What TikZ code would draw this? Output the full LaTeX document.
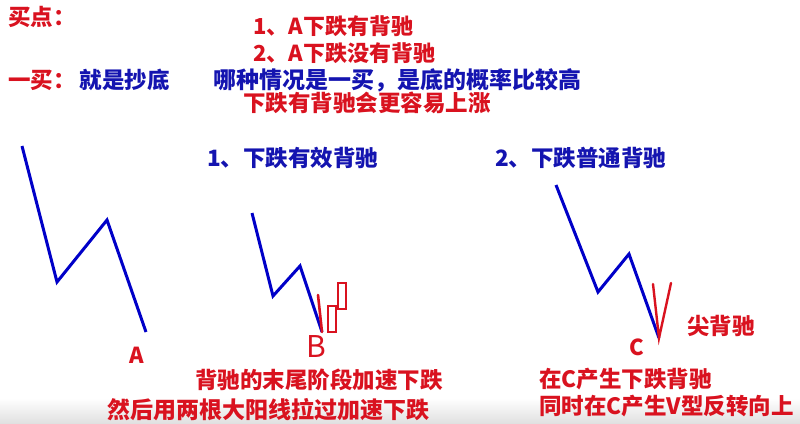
\documentclass[tikz,border=0pt]{standalone}
\usepackage{fontspec}
\setmainfont{Noto Sans CJK SC}
\usepackage{tikz}
\usetikzlibrary{positioning}
\definecolor{hong}{HTML}{D9121F}
\definecolor{lan}{HTML}{1414B0}
\definecolor{xian}{HTML}{0000C8}

\begin{document}
\begin{tikzpicture}[x=1pt, y=-1pt,
    redtxt/.style={anchor=west, inner sep=0pt, text=hong,
                   font=\fontsize{22.5}{26}\selectfont\bfseries},
    bluetxt/.style={redtxt, text=lan},
    widetxt/.style={font=\fontsize{23}{27}\selectfont\bfseries},
    pointtxt/.style={inner sep=0pt, text=hong,
                     font=\fontsize{22}{26}\selectfont\bfseries},
    wave/.style={draw=xian, line width=3pt, line join=miter},
    tick/.style={draw=hong, line width=2.6pt, line cap=round},
    candle/.style={draw=hong, line width=1.3pt, fill=white},
]
\useasboundingbox (0,0) rectangle (800,423);
\shade[top color=white, bottom color=black!12] (0,398) rectangle (800,423);

% heading lines
\node[redtxt] (maidian) at (8,17) {买点：};
\node[redtxt, font=\fontsize{22}{26}\selectfont\bfseries] (buya) at (253,26) {1、A下跌有背驰};
\node[redtxt, font=\fontsize{22}{26}\selectfont\bfseries] (buyb) at (253,53) {2、A下跌没有背驰};
\node[redtxt] (yimai) at (8,80) {一买：\hspace{4pt}\textcolor{lan}{就是抄底}};
\node[bluetxt, widetxt] (wenti) at (213,80) {哪种情况是一买，是底的概率比较高};
\node[redtxt] (shangzhang) at (243,103) {下跌有背驰会更容易上涨};

\node[bluetxt] (youxiao) at (207,158) {1、下跌有效背驰};
\node[bluetxt] (putong) at (495,158) {2、下跌普通背驰};

% left wave, ends at A
\coordinate (a0) at (22,146);
\coordinate (a1) at (57,282);
\coordinate (a2) at (107,220);
\coordinate (a3) at (146,332);
\draw[wave] (a0) -- (a1) -- (a2) -- (a3);
\node[pointtxt] (ptA) at (137,355) {A};

% middle wave, ends at B
\coordinate (b0) at (252,213);
\coordinate (b1) at (273,296);
\coordinate (b2) at (300,266);
\coordinate (b3) at (322,332);
\draw[wave] (b0) -- (b1) -- (b2) -- (b3);
\coordinate (t0) at (318,295);
\draw[tick] (t0) -- (b3);
\node[inner sep=0pt, text=hong, font=\fontsize{30}{30}\selectfont] (ptB) at (316,346) {B};
\draw[candle] (328,306) rectangle (336,332);
\draw[candle] (338,283) rectangle (346,309);

\node[redtxt] (mowei) at (195,380) {背驰的末尾阶段加速下跌};
\node[redtxt, widetxt] (yangxian) at (107,410) {然后用两根大阳线拉过加速下跌};

% right wave, ends at C with V
\coordinate (c0) at (556,185);
\coordinate (c1) at (598,292);
\coordinate (c2) at (629,254);
\coordinate (c3) at (659,338);
\draw[wave] (c0) -- (c1) -- (c2) -- (c3);
\coordinate (v1) at (653,284);
\coordinate (v2) at (671,283);
\draw[tick, line width=2.4pt, line join=miter] (v1) -- (c3) -- (v2);
\node[pointtxt] (ptC) at (637,347) {C};
\node[redtxt] (jian) at (687,326) {尖背驰};

\node[redtxt] (zaiC) at (539,379) {在C产生下跌背驰};
\node[redtxt] (fanzhuan) at (539,406) {同时在C产生V型反转向上};

\end{tikzpicture}
\end{document}
